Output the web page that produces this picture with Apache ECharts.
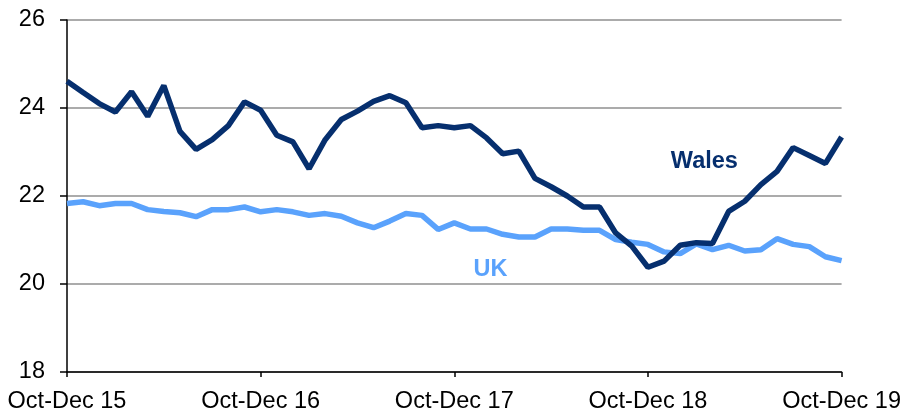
<!DOCTYPE html>
<html>
<head>
<meta charset="utf-8">
<script src="https://cdn.jsdelivr.net/npm/echarts@6/dist/echarts.min.js"></script>
<style>
  html, body { margin: 0; padding: 0; background: #fff; }
  #chart { width: 904px; height: 415px; }
</style>
</head>
<body>
<div id="chart"></div>
<script>
// rolling quarters, Oct-Dec 2015 to Oct-Dec 2019
var periods = [
    'Oct-Dec 15', 'Nov-Jan 16', 'Dec-Feb 16', 'Jan-Mar 16', 'Feb-Apr 16', 'Mar-May 16',
    'Apr-Jun 16', 'May-Jul 16', 'Jun-Aug 16', 'Jul-Sep 16', 'Aug-Oct 16', 'Sep-Nov 16',
    'Oct-Dec 16', 'Nov-Jan 17', 'Dec-Feb 17', 'Jan-Mar 17', 'Feb-Apr 17', 'Mar-May 17',
    'Apr-Jun 17', 'May-Jul 17', 'Jun-Aug 17', 'Jul-Sep 17', 'Aug-Oct 17', 'Sep-Nov 17',
    'Oct-Dec 17', 'Nov-Jan 18', 'Dec-Feb 18', 'Jan-Mar 18', 'Feb-Apr 18', 'Mar-May 18',
    'Apr-Jun 18', 'May-Jul 18', 'Jun-Aug 18', 'Jul-Sep 18', 'Aug-Oct 18', 'Sep-Nov 18',
    'Oct-Dec 18', 'Nov-Jan 19', 'Dec-Feb 19', 'Jan-Mar 19', 'Feb-Apr 19', 'Mar-May 19',
    'Apr-Jun 19', 'May-Jul 19', 'Jun-Aug 19', 'Jul-Sep 19', 'Aug-Oct 19', 'Sep-Nov 19',
    'Oct-Dec 19'
];

var wales = [
    24.61, 24.35, 24.10, 23.91, 24.37, 23.81, 24.51, 23.47, 23.06, 23.28,
    23.60, 24.14, 23.95, 23.38, 23.23, 22.62, 23.28, 23.74, 23.93, 24.15,
    24.28, 24.12, 23.55, 23.60, 23.55, 23.60, 23.32, 22.96, 23.02, 22.40,
    22.21, 22.00, 21.75, 21.75, 21.16, 20.86, 20.38, 20.52, 20.88, 20.94,
    20.92, 21.65, 21.88, 22.26, 22.56, 23.10, 22.92, 22.74, 23.34
];

var uk = [
    21.83, 21.87, 21.78, 21.83, 21.83, 21.69, 21.65, 21.62, 21.53, 21.69,
    21.69, 21.75, 21.64, 21.69, 21.64, 21.56, 21.60, 21.54, 21.39, 21.28,
    21.43, 21.60, 21.56, 21.24, 21.39, 21.25, 21.25, 21.13, 21.07, 21.07,
    21.25, 21.25, 21.22, 21.22, 21.01, 20.95, 20.90, 20.73, 20.69, 20.91,
    20.78, 20.88, 20.75, 20.78, 21.03, 20.90, 20.85, 20.62, 20.53
];

var walesColor = '#062f6e';
var ukColor = '#5aa2fc';
var font = 'Liberation Sans, Arial, sans-serif';

var chart = echarts.init(document.getElementById('chart'));
var option = {
    animation: false,
    grid: { left: 67, right: 61, top: 20, bottom: 43 },
    xAxis: {
        type: 'category',
        data: periods,
        boundaryGap: false,
        axisLine: { lineStyle: { color: '#000', width: 1.5 } },
        axisTick: { interval: 11, length: 5, lineStyle: { color: '#000', width: 1.5 } },
        axisLabel: {
            interval: 11,
            margin: 18,
            color: '#000',
            fontFamily: font,
            fontSize: 23.5
        },
        splitLine: { show: false }
    },
    yAxis: {
        type: 'value',
        min: 18,
        max: 26,
        interval: 2,
        axisLine: { show: true, lineStyle: { color: '#000', width: 1.5 } },
        axisTick: { show: true, length: 7, lineStyle: { color: '#000', width: 1.5 } },
        axisLabel: {
            margin: 22,
            color: '#000',
            fontFamily: font,
            fontSize: 23.5
        },
        splitLine: { lineStyle: { color: '#8f8f8f', width: 1.5 } }
    },
    series: [
        {
            name: 'UK',
            type: 'line',
            data: uk,
            symbol: 'none',
            lineStyle: { color: ukColor, width: 5.5 },
            markPoint: {
                symbolSize: 0,
                label: {
                    show: true,
                    formatter: 'UK',
                    offset: [4, 0],
                    color: ukColor,
                    fontFamily: font,
                    fontWeight: 'bold',
                    fontSize: 23.5
                },
                data: [{ coord: [26, 20.33] }]
            }
        },
        {
            name: 'Wales',
            type: 'line',
            data: wales,
            symbol: 'none',
            lineStyle: { color: walesColor, width: 5.5 },
            markPoint: {
                symbolSize: 0,
                label: {
                    show: true,
                    formatter: 'Wales',
                    offset: [8, 0],
                    color: walesColor,
                    fontFamily: font,
                    fontWeight: 'bold',
                    fontSize: 23.5
                },
                data: [{ coord: [39, 22.78] }]
            }
        }
    ]
};
chart.setOption(option);
</script>
</body>
</html>
